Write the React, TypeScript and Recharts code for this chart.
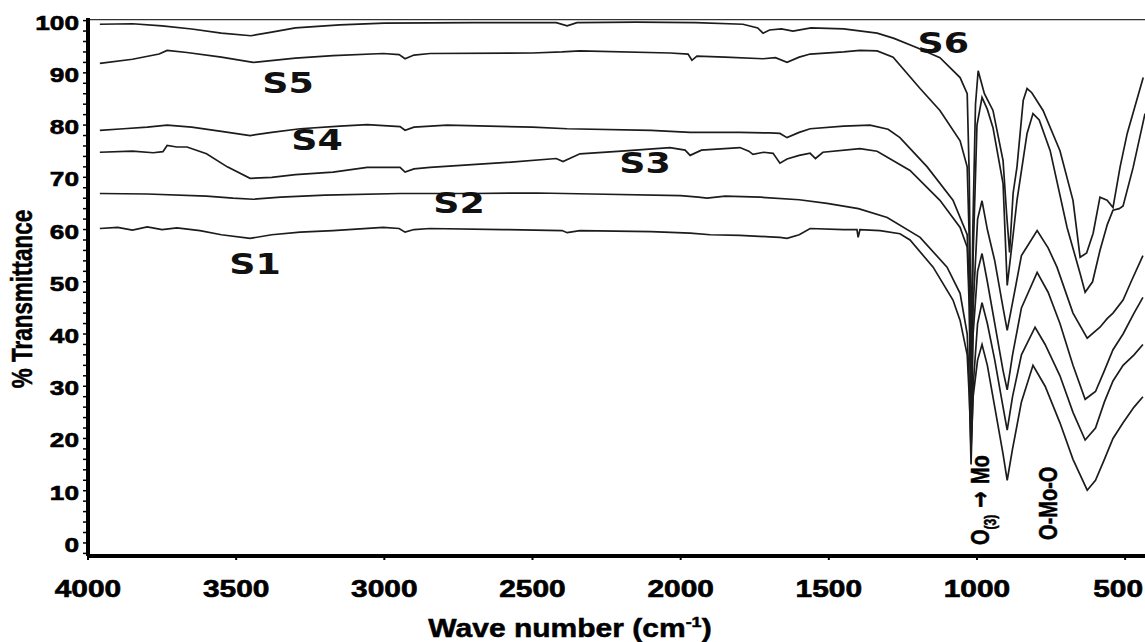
import { LineChart, Line, XAxis, YAxis, ReferenceDot, ReferenceLine, Label } from "recharts";

type Pt = [number, number];

// [wave number (cm-1), % transmittance]
const S6: Pt[] = [
  [3960, 99.3], [3850, 99.4], [3750, 99.0], [3650, 98.4], [3550, 97.6], [3450, 97.1], [3380, 97.8],
  [3300, 98.6], [3150, 99.2], [3000, 99.5], [2700, 99.6], [2420, 99.6], [2383, 99.0], [2350, 99.6],
  [2150, 99.7], [1950, 99.6], [1790, 99.3], [1740, 98.6], [1722, 97.6], [1700, 98.2], [1660, 98.4],
  [1621, 98.0], [1560, 98.6], [1450, 98.4], [1337, 97.6], [1280, 96.6], [1202, 94.8], [1125, 92.9],
  [1057, 89.1], [1033, 86.0], [1026, 70], [1020, 35], [1014, 60], [1005, 84], [996, 90.4], [975, 86],
  [946, 82.8], [912, 73.2], [900, 63], [890, 55.6], [878, 67], [865, 72], [844, 84.7], [831, 87],
  [815, 86.2], [777, 82.8], [720, 75.1], [676, 65.6], [652, 54.7], [630, 55.5], [608, 59.3],
  [585, 66.2], [561, 65.6], [541, 64.2], [517, 72], [493, 78.4], [439, 89.1],
];

const S5: Pt[] = [
  [3960, 91.8], [3850, 92.6], [3760, 93.6], [3733, 94.3], [3666, 93.9], [3550, 93.0], [3443, 92.0],
  [3300, 92.8], [3173, 93.3], [3004, 93.7], [2950, 93.5], [2930, 92.7], [2900, 93.4], [2846, 93.7],
  [2500, 93.8], [2400, 94.0], [2340, 94.2], [2036, 93.8], [1975, 93.6], [1962, 92.4], [1945, 93.2],
  [1850, 93.0], [1722, 92.7], [1680, 92.9], [1641, 92.0], [1600, 93.0], [1563, 93.6], [1450, 94.0],
  [1395, 94.3], [1337, 94.2], [1283, 93.0], [1192, 87.0], [1125, 82.8], [1057, 77.0], [1033, 72.0],
  [1026, 58], [1020, 28], [1013, 55], [1000, 80], [983, 85.3], [965, 83], [946, 79.5], [912, 68.8],
  [898, 49.3], [880, 58], [865, 65.6], [831, 78.4], [811, 82.2], [790, 81], [753, 75.1], [696, 60.4],
  [652, 51.6], [635, 48], [610, 50], [585, 56], [560, 61], [541, 63.7], [520, 64], [507, 64.5],
  [473, 71.9], [433, 82.2],
];

const S4: Pt[] = [
  [3960, 79.0], [3880, 79.3], [3800, 79.6], [3733, 80.0], [3650, 79.6], [3550, 78.8], [3453, 78.0],
  [3380, 78.6], [3284, 79.3], [3150, 79.8], [3058, 80.1], [2947, 79.7], [2930, 79.0], [2900, 79.6],
  [2788, 80.0], [2500, 79.6], [2383, 79.3], [2100, 79.0], [1968, 78.6], [1800, 78.6], [1700, 78.5],
  [1665, 78.4], [1641, 77.6], [1600, 78.6], [1563, 79.3], [1450, 79.8], [1361, 80.0], [1300, 79.2],
  [1260, 77.6], [1168, 72.0], [1081, 65.6], [1033, 59.0], [1026, 48], [1020, 24], [1013, 45],
  [998, 62], [983, 65.5], [965, 60], [940, 54], [912, 45], [898, 40.7], [880, 46], [850, 55],
  [797, 59.8], [760, 56.5], [730, 52.8], [676, 44.0], [628, 39.2], [585, 41.3], [560, 43],
  [541, 44.0], [507, 46.5], [480, 50], [440, 55],
];

const S3: Pt[] = [
  [3960, 74.8], [3850, 75.0], [3780, 74.7], [3747, 74.9], [3733, 76.1], [3700, 75.8], [3666, 75.8],
  [3600, 74.5], [3530, 72.0], [3453, 69.8], [3380, 70.0], [3300, 70.5], [3173, 71.0], [3058, 71.9],
  [2947, 71.9], [2930, 71.0], [2900, 71.6], [2846, 71.9], [2600, 72.8], [2420, 73.6], [2397, 73.0],
  [2340, 74.5], [2200, 75.0], [2036, 75.7], [1985, 75.2], [1968, 74.2], [1930, 75.2], [1800, 75.7],
  [1770, 75.0], [1756, 74.4], [1720, 74.8], [1688, 74.6], [1665, 72.7], [1641, 73.5], [1600, 74.2],
  [1563, 74.6], [1545, 73.6], [1520, 74.8], [1395, 75.5], [1337, 75.0], [1226, 71.3], [1125, 65.6],
  [1057, 60.4], [1033, 56.6], [1026, 45], [1020, 20], [1013, 40], [998, 52], [983, 55.4], [965, 50],
  [940, 42], [912, 33], [898, 29.3], [880, 36], [850, 45], [797, 51.8], [760, 48], [720, 42],
  [676, 34], [635, 27.5], [600, 29], [570, 33], [541, 37], [507, 40], [470, 44], [440, 47],
];

const S2: Pt[] = [
  [3960, 66.9], [3800, 66.8], [3600, 66.4], [3511, 66.0], [3443, 65.8], [3350, 66.2], [3200, 66.6],
  [2947, 66.9], [2700, 66.9], [2485, 67.0], [2300, 66.8], [2000, 66.5], [1940, 66.2], [1911, 66.0],
  [1850, 66.4], [1732, 66.2], [1600, 65.7], [1506, 65.0], [1400, 64.0], [1303, 62.3], [1192, 58.5],
  [1101, 52.8], [1057, 47.8], [1033, 40], [1026, 30], [1020, 15], [1013, 30], [998, 42], [983, 46],
  [965, 42], [940, 35], [912, 26], [898, 21.6], [880, 28], [850, 36], [804, 41.3], [770, 38],
  [720, 32], [676, 25], [635, 19.7], [600, 22], [570, 27], [541, 31], [507, 34], [470, 36], [440, 38],
];

const S1: Pt[] = [
  [3960, 60.2], [3900, 60.4], [3850, 59.9], [3800, 60.5], [3750, 60.0], [3700, 60.3], [3622, 59.8],
  [3550, 59.0], [3453, 58.3], [3380, 59.0], [3284, 59.5], [3173, 59.8], [3004, 60.4], [2950, 60.2],
  [2930, 59.5], [2900, 60.0], [2846, 60.2], [2600, 60.0], [2400, 59.8], [2383, 59.4], [2340, 59.8],
  [2100, 59.6], [1968, 59.3], [1900, 59.0], [1800, 58.9], [1700, 58.6], [1665, 58.5], [1641, 58.3],
  [1600, 59.0], [1563, 60.2], [1450, 60.0], [1405, 60.0], [1401, 58.5], [1395, 60.0], [1327, 59.8],
  [1260, 59.2], [1226, 58.0], [1148, 52.8], [1081, 46.5], [1057, 42.6], [1033, 36], [1026, 28],
  [1020, 18], [1013, 28], [998, 35], [983, 38], [965, 34], [940, 26], [912, 17], [898, 12], [880, 18],
  [850, 27], [811, 34], [770, 30], [720, 23], [676, 16], [628, 10.1], [600, 12], [570, 16], [541, 20],
  [507, 23], [470, 26], [440, 28],
];

const SERIES: { name: string; points: Pt[] }[] = [
  { name: "S1", points: S1 },
  { name: "S2", points: S2 },
  { name: "S3", points: S3 },
  { name: "S4", points: S4 },
  { name: "S5", points: S5 },
  { name: "S6", points: S6 },
];

const X_TICKS = [4000, 3500, 3000, 2500, 2000, 1500, 1000, 500];
const Y_LABELS = [0, 10, 20, 30, 40, 50, 60, 70, 80, 90, 100];
const Y_MINOR = Array.from({ length: 52 }, (_, i) => i * 2 - 2);

// curve names written on the plot
const LABEL_TEXT = ["S6", "S5", "S4", "S3", "S2", "S1"];
const LABEL_WN = [1114, 3325, 3227, 2120, 2748, 3436];
const LABEL_T = [95.8, 88.0, 77.2, 72.8, 65.0, 53.5];

// band assignments (vertical text)
const BAND_WN = [990, 760];
const BAND_T = [8.2, 7.6];

const SANS = "'Liberation Sans', Arial, sans-serif";

function XTick({ x, y, payload }: any) {
  // last label sits against the right edge, as in the original
  const shift = payload.value === 500 ? -7 : 0;
  return (
    <g transform={`translate(${x + shift},${y}) scale(1.3,1)`}>
      <text x={0} y={35} textAnchor="middle" fontFamily={SANS} fontWeight="bold" fontSize={23}
        fill="#000" stroke="#000" strokeWidth={0.6}>
        {payload.value}
      </text>
    </g>
  );
}

function YTick({ x, y, payload }: any) {
  if (!Y_LABELS.includes(payload.value)) return <g />;
  return (
    <g transform={`translate(${x - 2},${y}) scale(1.25,1)`}>
      <text x={0} y={9} textAnchor="end" fontFamily={SANS} fontWeight="bold" fontSize={21}
        fill="#000" stroke="#000" strokeWidth={0.6}>
        {payload.value}
      </text>
    </g>
  );
}

function YTitle(props: any) {
  const vb = props.viewBox;
  return (
    <g transform={`translate(${vb.x + 22},${vb.y + vb.height / 2 + 12}) scale(1.3,1) rotate(-90)`}>
      <text x={0} y={8} textAnchor="middle" fontFamily={SANS} fontWeight="bold" fontSize={22.5}
        fill="#000" stroke="#000" strokeWidth={0.4}>
        % Transmittance
      </text>
    </g>
  );
}

function XTitle(props: any) {
  const vb = props.viewBox;
  return (
    <g transform={`translate(${vb.x + 482},${vb.y + 81}) scale(1.2,1)`}>
      <text x={0} y={0} textAnchor="middle" fontFamily={SANS} fontWeight="bold" fontSize={25}
        fill="#000" stroke="#000" strokeWidth={0.5}>
        Wave number (cm<tspan fontSize={15} dy={-10}>-1</tspan><tspan dy={10}>)</tspan>
      </text>
    </g>
  );
}

function CurveName({ cx, cy, text }: any) {
  return (
    <g transform={`translate(${cx},${cy}) scale(1.3,1)`}>
      <text x={0} y={10} textAnchor="middle" fontFamily="'DejaVu Sans', sans-serif" fontWeight="bold"
        fontSize={28} fill="#111">
        {text}
      </text>
    </g>
  );
}

function BandText({ cx, cy, idx }: any) {
  return (
    <g transform={`translate(${cx},${cy}) scale(1.3,1) rotate(-90)`}>
      <text x={0} y={7} textAnchor="middle" fontFamily={SANS} fontWeight="bold" fontSize={20}
        fill="#000" stroke="#000" strokeWidth={0.4}>
        {idx === 0 ? (
          <>
            O<tspan fontSize={12} dy={5}>(3)</tspan>
            <tspan dy={-5} fontFamily="'DejaVu Sans', sans-serif" fontSize={20}> {"\u2192"} </tspan>
            <tspan>Mo</tspan>
          </>
        ) : (
          "O-Mo-O"
        )}
      </text>
    </g>
  );
}

export default function App() {
  return (
    <div style={{ position: "absolute", left: 0, top: 0, background: "#fff" }}>
      <LineChart width={1145} height={642} margin={{ top: 18, right: 0, bottom: 0, left: 0 }}>
        <XAxis
          type="number"
          dataKey="wn"
          domain={[433, 4000]}
          reversed
          allowDataOverflow
          ticks={X_TICKS}
          interval={0}
          height={86}
          axisLine={{ stroke: "#000", strokeWidth: 4 }}
          tickLine={{ stroke: "#000", strokeWidth: 2 }}
          tickSize={4}
          tick={(p: any) => <XTick {...p} />}
        >
          <Label content={(p: any) => <XTitle {...p} />} />
        </XAxis>
        <YAxis
          type="number"
          domain={[-2.5, 100.5]}
          allowDataOverflow
          ticks={Y_MINOR}
          interval={0}
          width={88}
          axisLine={{ stroke: "#000", strokeWidth: 4 }}
          tickLine={{ stroke: "#000", strokeWidth: 1.5 }}
          tickSize={5}
          tick={(p: any) => <YTick {...p} />}
        >
          <Label content={(p: any) => <YTitle {...p} />} />
        </YAxis>
        <ReferenceLine y={100.2} stroke="#333" strokeWidth={1.2} />
        {SERIES.map((s) => (
          <Line
            key={s.name}
            data={s.points.map(([wn, t]) => ({ wn, t }))}
            dataKey="t"
            type="linear"
            stroke="#1c1c1c"
            strokeWidth={1.7}
            dot={false}
            isAnimationActive={false}
          />
        ))}
        {LABEL_TEXT.map((name, i) => (
          <ReferenceDot
            key={name}
            x={LABEL_WN[i]}
            y={LABEL_T[i]}
            r={0}
            ifOverflow="visible"
            shape={(p: any) => <CurveName cx={p.cx} cy={p.cy} text={name} />}
          />
        ))}
        {BAND_WN.map((wn, i) => (
          <ReferenceDot
            key={"band" + i}
            x={wn}
            y={BAND_T[i]}
            r={0}
            ifOverflow="visible"
            shape={(p: any) => <BandText cx={p.cx} cy={p.cy} idx={i} />}
          />
        ))}
      </LineChart>
    </div>
  );
}
